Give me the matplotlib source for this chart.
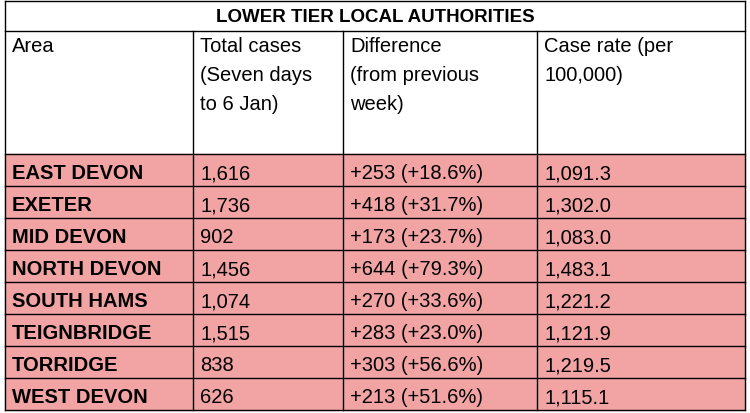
import matplotlib
matplotlib.use("Agg")
import matplotlib.pyplot as plt
from matplotlib.patches import Rectangle

TITLE = "LOWER TIER LOCAL AUTHORITIES"
HEADERS = ["Area", "Total cases\n(Seven days\nto 6 Jan)", "Difference\n(from previous\nweek)",
           "Case rate (per\n100,000)"]
AREAS = ["EAST DEVON", "EXETER", "MID DEVON", "NORTH DEVON", "SOUTH HAMS",
         "TEIGNBRIDGE", "TORRIDGE", "WEST DEVON"]
CASES = ["1,616", "1,736", "902", "1,456", "1,074", "1,515", "838", "626"]
DIFFS = ["+253 (+18.6%)", "+418 (+31.7%)", "+173 (+23.7%)", "+644 (+79.3%)",
         "+270 (+33.6%)", "+283 (+23.0%)", "+303 (+56.6%)", "+213 (+51.6%)"]
RATES = ["1,091.3", "1,302.0", "1,083.0", "1,483.1", "1,221.2", "1,121.9",
         "1,219.5", "1,115.1"]

PINK, INK = "#f2a3a3", "#000000"
COLS = [5, 193, 343, 537, 745]
TOP, HEAD, ROW0, RH = 2, 32, 155, 32

plt.rcParams["font.family"] = "Liberation Sans"
fig = plt.figure(figsize=(7.5, 4.14), dpi=100)
ax = fig.add_axes([0, 0, 1, 1])
ax.set_xlim(0, 750)
ax.set_ylim(414, 0)
ax.axis("off")

n = len(AREAS)
bottom = ROW0 + n * RH
ax.add_patch(Rectangle((COLS[0], ROW0), COLS[-1] - COLS[0], n * RH, color=PINK, zorder=0))

lw = 1.0
for y in [TOP, HEAD, ROW0] + [ROW0 + i * RH for i in range(1, n + 1)]:
    ax.plot([COLS[0], COLS[-1]], [y, y], color=INK, lw=lw)
for i, x in enumerate(COLS):
    y0 = TOP if i in (0, len(COLS) - 1) else HEAD
    ax.plot([x, x], [y0, bottom], color=INK, lw=lw)

ax.text((COLS[0] + COLS[-1]) / 2, (TOP + HEAD) / 2 + 1, TITLE, ha="center", va="center",
        fontsize=13.5, fontweight="bold")
for x, h in zip(COLS[:-1], HEADERS):
    ax.text(x + 7, HEAD + 5, h, ha="left", va="top", fontsize=14.5, linespacing=1.65)

for r in range(n):
    y = ROW0 + r * RH + RH / 2 + 1
    vals = [AREAS[r], CASES[r], DIFFS[r], RATES[r]]
    for c, v in enumerate(vals):
        ax.text(COLS[c] + 7, y, v, ha="left", va="center_baseline", fontsize=14.5,
                fontweight="bold" if c == 0 else "normal")

fig.savefig("out.png", dpi=100, facecolor="white")
